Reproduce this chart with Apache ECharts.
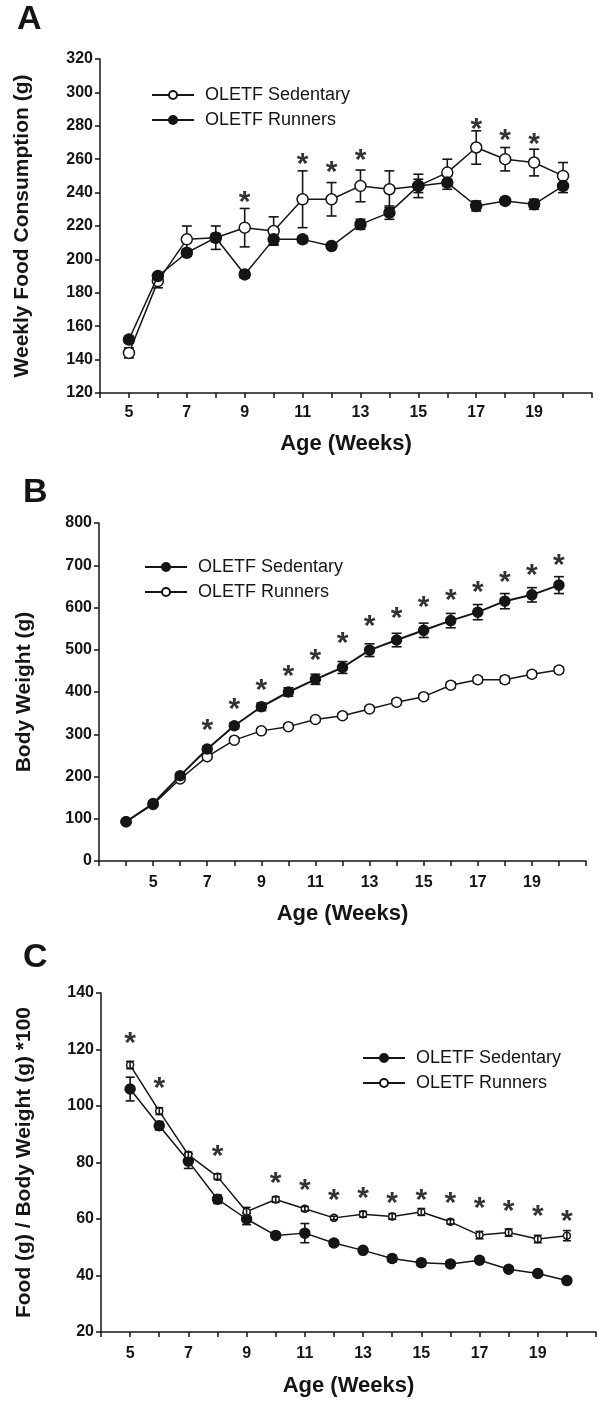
<!DOCTYPE html>
<html>
<head>
<meta charset="utf-8">
<script src="https://cdn.jsdelivr.net/npm/echarts@6/dist/echarts.min.js"></script>
<style>
  html, body { margin: 0; padding: 0; background: #fff; }
  .panel { width: 599px; }
</style>
</head>
<body>
<div id="chartA" class="panel" style="height:460px"></div>
<div id="chartB" class="panel" style="height:470px"></div>
<div id="chartC" class="panel" style="height:472px"></div>
<script>
/************* data **************/
var weeksA = [5, 6, 7, 8, 9, 10, 11, 12, 13, 14, 15, 16, 17, 18, 19, 20];
var sedA    = [144, 187, 212, 213, 219, 217, 236, 236, 244, 242, 244, 252, 267, 260, 258, 250];
var sedAErr = [3, 4, 8, 7, 11.5, 8.5, 17, 10, 9.5, 11, 4, 8, 10, 7, 8, 8];
var runA    = [152, 190, 204, 213, 191, 212, 212, 208, 221, 228, 244, 246, 232, 235, 233, 244];
var runAErr = [2, 2, 2, 2.5, 2, 3, 2, 1.5, 3, 4, 7, 4, 3, 2, 3, 4];
var starWeeksA = [9, 11, 12, 13, 17, 18, 19];
var starHeightA = [238, 261, 256, 263, 282, 275, 273];

var weeksB = [4, 5, 6, 7, 8, 9, 10, 11, 12, 13, 14, 15, 16, 17, 18, 19, 20];
var sedB    = [93, 136, 202, 265, 320, 365, 400, 430, 458, 499, 523, 546, 569, 589, 615, 630, 653];
var sedBErr = [3, 4, 5, 6, 7, 9, 10, 12, 14, 15, 16, 17, 17, 18, 18, 17, 20];
var runB    = [93, 134, 194, 247, 286, 308, 318, 335, 344, 360, 376, 389, 416, 429, 429, 442, 452];
var runBErr = [3, 3, 4, 5, 5, 5, 5, 5, 5, 5, 6, 6, 7, 7, 8, 7, 7];
var starWeeksB = [7, 8, 9, 10, 11, 12, 13, 14, 15, 16, 17, 18, 19, 20];
var starHeightB = [324, 374, 419, 452, 491, 531, 570, 591, 616, 632, 651, 675, 691, 716];

var weeksC = [5, 6, 7, 8, 9, 10, 11, 12, 13, 14, 15, 16, 17, 18, 19, 20];
var sedC    = [106, 93, 80.5, 67, 60, 54.2, 55, 51.5, 48.9, 46, 44.5, 44.1, 45.4, 42.2, 40.7, 38.2];
var sedCErr = [4.2, 1.5, 2.6, 1.5, 2, 1, 3.4, 1, 0.8, 1.2, 1.2, 0.8, 1, 1, 0.8, 0.8];
var runC    = [114.5, 98.2, 82.7, 75, 62.6, 66.9, 63.6, 60.4, 61.7, 60.9, 62.5, 59, 54.3, 55.2, 52.9, 54.1];
var runCErr = [1.3, 1.2, 1, 1, 1.5, 1, 0.8, 0.6, 1, 1, 1.2, 0.8, 1.3, 1.3, 1.3, 1.8];
var starWeeksC = [5, 6, 8, 10, 11, 12, 13, 14, 15, 16, 17, 18, 19, 20];
var starHeightC = [124.6, 108.5, 84.4, 74.9, 72.6, 69, 69.5, 68, 69, 67.8, 66.1, 65, 63.2, 61.5];

var xLabelWeeks = [5, 7, 9, 11, 13, 15, 17, 19];
var seriesNames = ['OLETF Sedentary', 'OLETF Runners'];

/************* helpers **************/
var FONT = '"Liberation Sans", Arial, sans-serif';
var INK = '#151515';

function pairs(xs, ys, es) {
    return xs.map(function (x, i) { return es ? [x, ys[i], es[i]] : [x, ys[i]]; });
}

// vertical error bar with caps
function errorBars(xs, ys, es, cap, z) {
    return {
        type: 'custom',
        silent: true,
        z: z,
        encode: { x: 0, y: 1 },
        data: pairs(xs, ys, es),
        renderItem: function (params, api) {
            var x = api.value(0), y = api.value(1), e = api.value(2);
            var top = api.coord([x, y + e]);
            var bot = api.coord([x, y - e]);
            var hw = cap / 2;
            var st = { stroke: INK, lineWidth: 1.6 };
            return {
                type: 'group',
                children: [
                    { type: 'line', shape: { x1: top[0], y1: top[1], x2: bot[0], y2: bot[1] }, style: st },
                    { type: 'line', shape: { x1: top[0] - hw, y1: top[1], x2: top[0] + hw, y2: top[1] }, style: st },
                    { type: 'line', shape: { x1: bot[0] - hw, y1: bot[1], x2: bot[0] + hw, y2: bot[1] }, style: st }
                ]
            };
        }
    };
}

function lineSeries(name, xs, ys, filled, size, width, z) {
    return {
        name: name,
        type: 'line',
        z: z,
        data: pairs(xs, ys),
        symbol: 'circle',
        symbolSize: size,
        showAllSymbol: true,
        lineStyle: { color: INK, width: width },
        itemStyle: { color: filled ? INK : '#fff', borderColor: INK, borderWidth: 1.5, opacity: 1 }
    };
}

function stars(xs, hs) {
    return {
        type: 'scatter',
        silent: true,
        symbolSize: 0,
        z: 10,
        data: pairs(xs, hs),
        label: {
            show: true,
            position: 'inside',
            formatter: '*',
            color: '#000',
            fontFamily: FONT,
            fontWeight: 'bold',
            fontSize: 30,
            offset: [0, 7]
        }
    };
}

function xAxisOpt(min, labelMargin, nameGap) {
    return {
        type: 'value',
        min: min,
        max: 21,
        interval: 1,
        name: 'Age (Weeks)',
        nameLocation: 'middle',
        nameGap: nameGap,
        nameTextStyle: { fontFamily: FONT, fontWeight: 'bold', fontSize: 22, color: INK },
        axisLine: { lineStyle: { color: INK, width: 1.5 } },
        axisTick: { length: 5, lineStyle: { color: INK, width: 1.5 } },
        splitLine: { show: false },
        axisLabel: {
            margin: labelMargin,
            fontFamily: FONT, fontWeight: 'bold', fontSize: 16, color: INK,
            formatter: function (v) { return xLabelWeeks.indexOf(v) >= 0 ? String(v) : ''; }
        }
    };
}

function yAxisOpt(name, min, max, interval, nameGap) {
    return {
        type: 'value',
        min: min,
        max: max,
        interval: interval,
        name: name,
        nameLocation: 'middle',
        nameGap: nameGap,
        nameTextStyle: { fontFamily: FONT, fontWeight: 'bold', fontSize: 21, color: INK },
        axisLine: { show: true, lineStyle: { color: INK, width: 1.5 } },
        axisTick: { show: true, length: 5, lineStyle: { color: INK, width: 1.5 } },
        splitLine: { show: false },
        axisLabel: { margin: 7, fontFamily: FONT, fontWeight: 'bold', fontSize: 16, color: INK }
    };
}

function legendOpt(left, top) {
    return {
        data: seriesNames,
        orient: 'vertical',
        left: left,
        top: top,
        itemWidth: 42,
        itemHeight: 10,
        itemGap: 7,
        selectedMode: false,
        textStyle: { fontFamily: FONT, fontSize: 18, color: INK, padding: [0, 0, 0, 6] }
    };
}

function letter(t, left, top) {
    return { text: t, left: left, top: top, textStyle: { fontFamily: FONT, fontWeight: 'bold', fontSize: 34, color: INK } };
}

/************* A : weekly food consumption **************/
var chartA = echarts.init(document.getElementById('chartA'));
chartA.setOption({
    animation: false,
    title: letter('A', 12, -2),
    legend: legendOpt(146, 81),
    grid: { left: 100, right: 7, top: 59, bottom: 56.5 },
    xAxis: xAxisOpt(4, 12, 40),
    yAxis: yAxisOpt('Weekly Food Consumption (g)', 120, 320, 20, 67),
    series: [
        errorBars(weeksA, sedA, sedAErr, 10, 1),
        errorBars(weeksA, runA, runAErr, 10, 1),
        lineSeries(seriesNames[0], weeksA, sedA, false, 11, 1.5, 3),
        lineSeries(seriesNames[1], weeksA, runA, true, 11, 1.5, 4),
        stars(starWeeksA, starHeightA)
    ]
});

/************* B : body weight **************/
var chartB = echarts.init(document.getElementById('chartB'));
chartB.setOption({
    animation: false,
    title: letter('B', 18, 11),
    legend: legendOpt(139, 93),
    grid: { left: 99, right: 13, top: 63, bottom: 65.3 },
    xAxis: xAxisOpt(3, 14, 42),
    yAxis: yAxisOpt('Body Weight (g)', 0, 800, 100, 64),
    series: [
        errorBars(weeksB, sedB, sedBErr, 10, 1),
        errorBars(weeksB, runB, runBErr, 10, 1),
        lineSeries(seriesNames[0], weeksB, sedB, true, 10, 2, 4),
        lineSeries(seriesNames[1], weeksB, runB, false, 10, 1.5, 3),
        stars(starWeeksB, starHeightB)
    ]
});

/************* C : food / body weight **************/
var chartC = echarts.init(document.getElementById('chartC'));
chartC.setOption({
    animation: false,
    title: letter('C', 18, 6),
    legend: legendOpt(357, 114),
    grid: { left: 101, right: 1, top: 63, bottom: 61 },
    xAxis: xAxisOpt(4, 14, 43),
    yAxis: yAxisOpt('Food (g) / Body Weight (g) *100', 20, 140, 20, 66),
    series: [
        errorBars(weeksC, sedC, sedCErr, 9, 1),
        lineSeries(seriesNames[0], weeksC, sedC, true, 10, 1.5, 3),
        lineSeries(seriesNames[1], weeksC, runC, false, 7, 1.5, 4),
        errorBars(weeksC, runC, runCErr, 8, 5),
        stars(starWeeksC, starHeightC)
    ]
});
</script>
</body>
</html>
